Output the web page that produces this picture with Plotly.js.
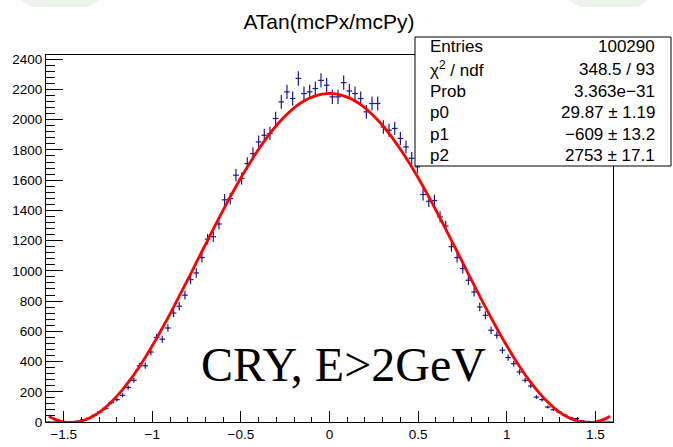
<!DOCTYPE html>
<html>
<head>
<meta charset="utf-8">
<script src="https://cdn.plot.ly/plotly-3.0.1.min.js"></script>
<style>html,body{margin:0;padding:0;background:#fff;}#chart{width:673px;height:447px;}</style>
</head>
<body>
<div id="chart"></div>
<script>
// ---- data ----
const binStart = -1.584;   // centre of first bin
const binWidth = 0.032;    // 100 bins on [-1.6, 1.6]
const counts = [
  0, 0, 2, 1, 3, 5, 14, 24, 44, 66,
  89, 128, 148, 177, 228, 276, 372, 372, 463, 560,
  548, 622, 721, 766, 839, 942, 986, 1088, 1210, 1226,
  1310, 1470, 1478, 1633, 1611, 1710, 1776, 1853, 1897, 1909,
  2008, 2118, 2184, 2140, 2273, 2173, 2184, 2206, 2260, 2228,
  2151, 2151, 2245, 2190, 2173, 2140, 2052, 2107, 2107, 1952,
  1930, 1942, 1876, 1820, 1745, 1688, 1505, 1460, 1465, 1357,
  1296, 1160, 1088, 1015, 938, 860, 761, 706, 607, 574,
  475, 426, 386, 331, 276, 238, 165, 148, 99, 82,
  66, 45, 29, 22, 8, 4, 2, 1, 0, 0
];
const fitCurve = [
  38, 19, 6, -2, -4, 0, 9, 23, 43, 67,
  97, 132, 171, 214, 262, 313, 369, 427, 489, 553,
  620, 689, 760, 833, 906, 979, 1054, 1128, 1202, 1276,
  1349, 1420, 1490, 1558, 1624, 1687, 1747, 1805, 1858, 1909,
  1955, 1998, 2036, 2070, 2099, 2124, 2143, 2158, 2168, 2173,
  2173, 2168, 2158, 2143, 2124, 2099, 2070, 2036, 1998, 1955,
  1909, 1858, 1805, 1747, 1687, 1624, 1558, 1490, 1420, 1349,
  1276, 1202, 1128, 1054, 979, 906, 833, 760, 689, 620,
  553, 489, 427, 369, 313, 262, 214, 171, 132, 97,
  67, 43, 23, 9, 0, -4, -2, 6, 19, 38
];
const title = 'ATan(mcPx/mcPy)';
const statLabels = ['Entries', '\u03c7<sup>2</sup> / ndf', 'Prob', 'p0', 'p1', 'p2'];
const statValues = ['100290', '348.5 / 93', '3.363e\u221231', '29.87 \u00b1 1.19', '\u2212609 \u00b1 13.2', '2753 \u00b1 17.1'];
const note = 'CRY, E&gt;2GeV';

// ---- layout geometry ----
const W = 673, H = 447;
const M = {l: 46, r: 60, t: 55, b: 25};
const PW = W - M.l - M.r, PH = H - M.t - M.b;
const px = v => (v - M.l) / PW;
const py = v => (H - M.b - v) / PH;

const sans = 'Liberation Sans, Arial, Helvetica, sans-serif';

const traces = [
  {
    type: 'scatter', mode: 'markers',
    x0: binStart, dx: binWidth, y: counts,
    marker: {size: 1, color: '#1a1a90'},
    error_y: {type: 'sqrt', width: 0, thickness: 1.2, color: '#1a1a90'},
    error_x: {type: 'constant', value: binWidth / 2, width: 0, thickness: 1.2, color: '#1a1a90'},
    hoverinfo: 'skip', showlegend: false
  },
  {
    type: 'scatter', mode: 'lines',
    x0: binStart, dx: binWidth, y: fitCurve,
    line: {color: '#ff0000', width: 2.8, shape: 'spline'},
    hoverinfo: 'skip', showlegend: false
  }
];

const annotations = [];
const rowY = [47, 69.5, 91, 112.5, 134, 155.5];
statLabels.forEach((t, i) => {
  annotations.push({xref: 'paper', yref: 'paper', x: px(428), y: py(rowY[i]), xanchor: 'left', yanchor: 'middle',
    text: t, showarrow: false, font: {family: sans, size: 17, color: '#000'}});
  annotations.push({xref: 'paper', yref: 'paper', x: px(657), y: py(rowY[i]), xanchor: 'right', yanchor: 'middle',
    text: statValues[i], showarrow: false, font: {family: sans, size: 17, color: '#000'}});
});
annotations.push({xref: 'paper', yref: 'paper', x: px(343.5), y: py(364), xanchor: 'center', yanchor: 'middle',
  text: note, showarrow: false, font: {family: 'Liberation Serif, Times New Roman, serif', size: 48, color: '#000'}});

const shapes = [
  {type: 'rect', xref: 'paper', yref: 'paper', x0: px(415), x1: px(671), y0: py(166), y1: py(37),
   fillcolor: '#ffffff', line: {color: '#000', width: 1}, layer: 'above'},
  {type: 'path', xref: 'paper', yref: 'paper', layer: 'below',
   path: `M ${px(20)} ${py(0)} L ${px(100)} ${py(0)} L ${px(88)} ${py(7)} L ${px(32)} ${py(7)} Z`,
   fillcolor: '#edf2ed', line: {width: 0}},
  {type: 'path', xref: 'paper', yref: 'paper', layer: 'below',
   path: `M ${px(568)} ${py(0)} L ${px(648)} ${py(0)} L ${px(638)} ${py(7)} L ${px(580)} ${py(7)} Z`,
   fillcolor: '#edf2ed', line: {width: 0}}
];

const layout = {
  width: W, height: H,
  margin: M,
  paper_bgcolor: '#fff', plot_bgcolor: '#fff',
  title: {text: title, font: {family: sans, size: 21, color: '#000'},
          x: 329 / W, xanchor: 'center', xref: 'container', y: 1 - 22 / H, yanchor: 'middle', yref: 'container'},
  xaxis: {
    range: [-1.6, 1.6], showgrid: false, zeroline: false,
    showline: true, mirror: true, linecolor: '#000', linewidth: 1,
    tick0: 0, dtick: 0.5, ticks: 'inside', ticklen: 11, tickcolor: '#000', tickwidth: 1,
    minor: {dtick: 0.1, ticks: 'inside', ticklen: 5.5, tickcolor: '#000', tickwidth: 1, showgrid: false},
    tickfont: {family: sans, size: 13.5, color: '#000'}
  },
  yaxis: {
    range: [0, 2428], showgrid: false, zeroline: false,
    showline: true, mirror: true, linecolor: '#000', linewidth: 1,
    tick0: 0, dtick: 200, ticks: 'inside', ticklen: 17, tickcolor: '#000', tickwidth: 1,
    minor: {dtick: 40, ticks: 'inside', ticklen: 8.5, tickcolor: '#000', tickwidth: 1, showgrid: false},
    tickfont: {family: sans, size: 13.5, color: '#000'}
  },
  annotations: annotations,
  shapes: shapes,
  showlegend: false
};

Plotly.newPlot('chart', traces, layout, {displayModeBar: false, staticPlot: true});
</script>
</body>
</html>
